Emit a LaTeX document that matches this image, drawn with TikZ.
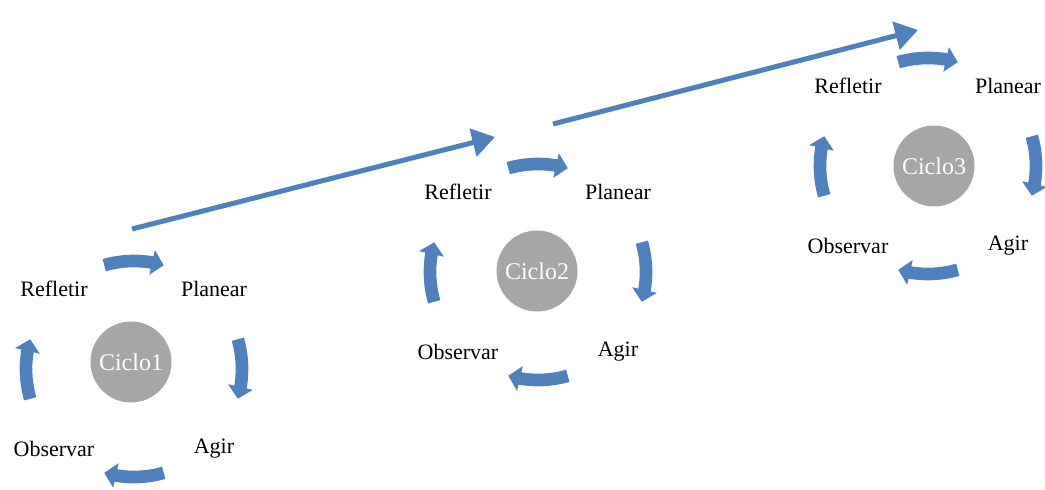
\documentclass[tikz,border=0pt]{standalone}
\usepackage{fontspec}
\setmainfont{Liberation Serif}
\usetikzlibrary{arrows.meta,bending}
\definecolor{cicloazul}{HTML}{4F81BD}
\definecolor{ciclocinza}{HTML}{A6A6A6}
\tikzset{
  etapa/.style={font=\fontsize{16.5}{18}\selectfont},
  ciclo/.style={circle, fill=ciclocinza, text=white, minimum size=60.75pt,
    inner sep=0pt, font=\fontsize{18}{20}\selectfont},
  giro/.style={cicloazul, line width=9.5pt, -{Triangle[length=9pt,width=18.5pt]}},
  salto/.style={cicloazul, line width=3.75pt, -{Triangle[length=17pt,width=21pt]}}
}
\begin{document}
\begin{tikzpicture}[x=0.75pt, y=0.75pt]
          \useasboundingbox (0,0) rectangle (1045,489);
          \def\R{108}
          \def\d{80}
          \def\w{16}
          \foreach \i/\cx/\cy/\ox/\oy in {1/134/120/-3/7, 2/538/217/-1/1, 3/928/323/6/0} {
            \node[ciclo] (c\i) at (\cx+\ox, \cy+\oy) {Ciclo\i};
            \node[etapa] (refletir\i) at (\cx-\d, \cy+\d) {Refletir};
            \node[etapa] (planear\i) at (\cx+\d, \cy+\d) {Planear};
            \node[etapa] (agir\i) at (\cx+\d, \cy-\d) {Agir};
            \node[etapa] (observar\i) at (\cx-\d, \cy-\d) {Observar};
            \foreach \a in {90, 0, -90, 180}
              \draw[giro] ([shift={(\cx,\cy)}] {\a+\w}:\R) arc [start angle=\a+\w,
              end angle=\a-\w, radius=\R];
          }
          \coordinate (saida1) at (132, 260);
          \coordinate (entrada2) at (495, 352);
          \coordinate (saida2) at (553, 365);
          \coordinate (entrada3) at (918, 459);
          \draw[salto] (saida1) -- (entrada2);
          \draw[salto] (saida2) -- (entrada3);
        \end{tikzpicture}
\end{document}
